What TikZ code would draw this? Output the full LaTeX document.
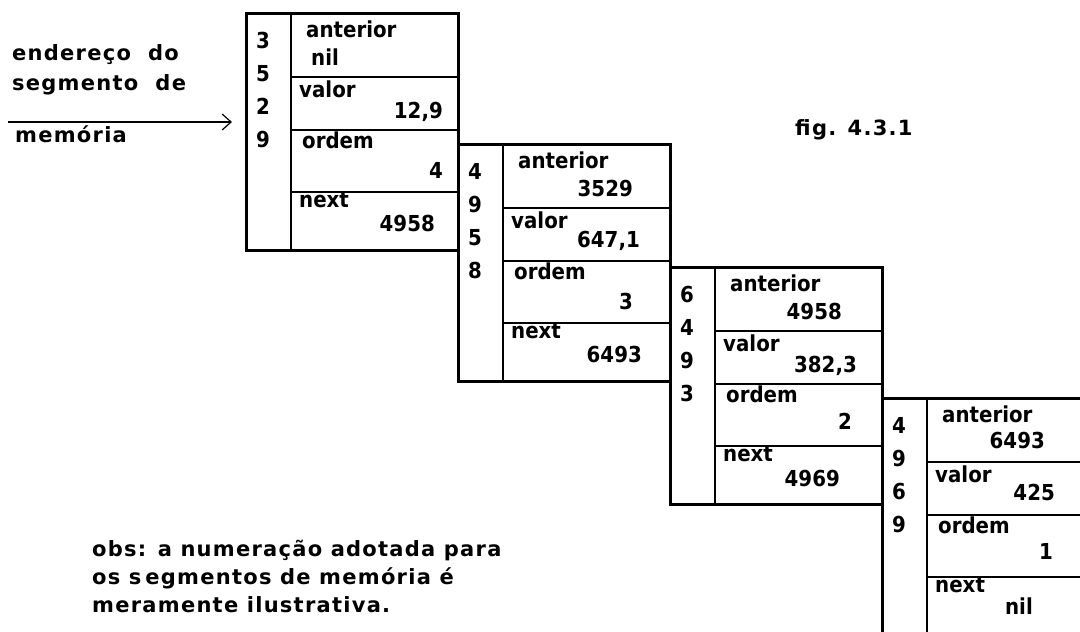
\documentclass[tikz,border=0pt]{standalone}
\usepackage{fontspec}
\setmainfont{DejaVu Sans}[FakeStretch=0.9]
\newfontfamily\spacedfont{DejaVu Sans}[LetterSpace=6]
\usetikzlibrary{positioning, arrows.meta, calc}

\begin{document}
\begin{tikzpicture}[
    x=1pt, y=-1pt,          % 画像のピクセル座標をそのまま使う（y は下向き）
    >={Straight Barb[length=9pt, width=16pt]},
    font=\fontsize{22}{22}\selectfont\bfseries,
    segbox/.style={draw, line width=2.6pt, minimum width=212pt, minimum height=237pt,
                   inner sep=0pt, anchor=north west},
    cell/.style={line width=1.5pt},
    digitcol/.style={anchor=north, align=center, inner sep=0pt,
                     font=\fontsize{22}{33}\selectfont\bfseries},
    field/.style={anchor=base west, inner sep=0pt},
    num/.style={anchor=base east, inner sep=0pt},
    note/.style={anchor=base west, inner sep=0pt,
                 font=\spacedfont\fontsize{21}{21}\selectfont\bfseries}
]

    % --- 0. 描画範囲（右下の箱ははみ出して切れる） ---
    \useasboundingbox (0, 0) rectangle (1080, 632);
    \clip (0, 0) rectangle (1080, 632);
    \fill [white] (0, 0) rectangle (1080, 632);

    % --- 1. メモリセグメントの枠（4つとも同じ形） ---
    \foreach \s/\sx/\sy/\addr in {1/245/12/{3\\5\\2\\9}, 2/457/143/{4\\9\\5\\8},
                                  3/669/266/{6\\4\\9\\3}, 4/881/397/{4\\9\\6\\9}} {
        \node [segbox] (seg\s) at (\sx, \sy) {};
        % アドレス列との仕切り
        \draw [cell] ($(seg\s.north west)+(46, 0)$) -- ($(seg\s.south west)+(46, 0)$);
        % フィールドの区切り線
        \foreach \r in {65, 118, 180}
            \draw [cell] ($(seg\s.north west)+(46, \r)$) -- ($(seg\s.north east)+(0, \r)$);
        % 縦書きのアドレス
        \node [digitcol] (addr\s) at ($(seg\s.north west)+(18, 20)$) {\addr};
        % フィールド名
        \node [field] (ant\s) at ($(seg\s.north west)+(61, 25)$) {anterior};
        \node [field] (val\s) at ($(seg\s.north west)+(54, 85)$) {valor};
        \node [field] (ord\s) at ($(seg\s.north west)+(57, 136)$) {ordem};
        \node [field] (nxt\s) at ($(seg\s.north west)+(54, 195)$) {next};
    }

    % --- 2. 各フィールドの値 ---
    % 【セグメント 3529】
    \node [field] (ant1v) at ($(seg1.north west)+(66, 53)$) {nil};
    \node [num] (val1v) at ($(seg1.north west)+(198, 106)$) {12,9};
    \node [num] (ord1v) at ($(seg1.north west)+(198, 166)$) {4};
    \node [num] (nxt1v) at ($(seg1.north west)+(190, 219)$) {4958};

    % 【セグメント 4958】
    \node [num] (ant2v) at ($(seg2.north west)+(176, 53)$) {3529};
    \node [num] (val2v) at ($(seg2.north west)+(183, 104)$) {647,1};
    \node [num] (ord2v) at ($(seg2.north west)+(176, 166)$) {3};
    \node [num] (nxt2v) at ($(seg2.north west)+(185, 219)$) {6493};

    % 【セグメント 6493】
    \node [num] (ant3v) at ($(seg3.north west)+(173, 53)$) {4958};
    \node [num] (val3v) at ($(seg3.north west)+(188, 106)$) {382,3};
    \node [num] (ord3v) at ($(seg3.north west)+(183, 163)$) {2};
    \node [num] (nxt3v) at ($(seg3.north west)+(171, 220)$) {4969};

    % 【セグメント 4969】
    \node [num] (ant4v) at ($(seg4.north west)+(164, 51)$) {6493};
    \node [num] (val4v) at ($(seg4.north west)+(174, 103)$) {425};
    \node [num] (ord4v) at ($(seg4.north west)+(172, 162)$) {1};
    \node [num] (nxt4v) at ($(seg4.north west)+(152, 217)$) {nil};

    % --- 3. 左側の説明と矢印 ---
    \node [note] (head1) at (12, 60) {endereço~ do};
    \node [note] (head2) at (12, 90) {segmento~ de};
    \node [note] (head3) at (15, 142) {memória};
    \coordinate (tail) at (8, 122);
    \coordinate (tip) at ($(seg1.north west)+(-13, 110)$);
    \draw [line width=1.2pt, ->] (tail) -- (tip);

    % --- 4. 図番号と注記 ---
    \node [note] (fig) at (795, 135) {fig. 4.3.1};
    \node [note] (obs1) at (92, 556) {obs: a numeração adotada para};
    \node [note] (obs2) at (92, 584) {os s\kern4pt egmentos de memória é};
    \node [note] (obs3) at (92, 612) {meramente ilustrativa.};

\end{tikzpicture}
\end{document}
